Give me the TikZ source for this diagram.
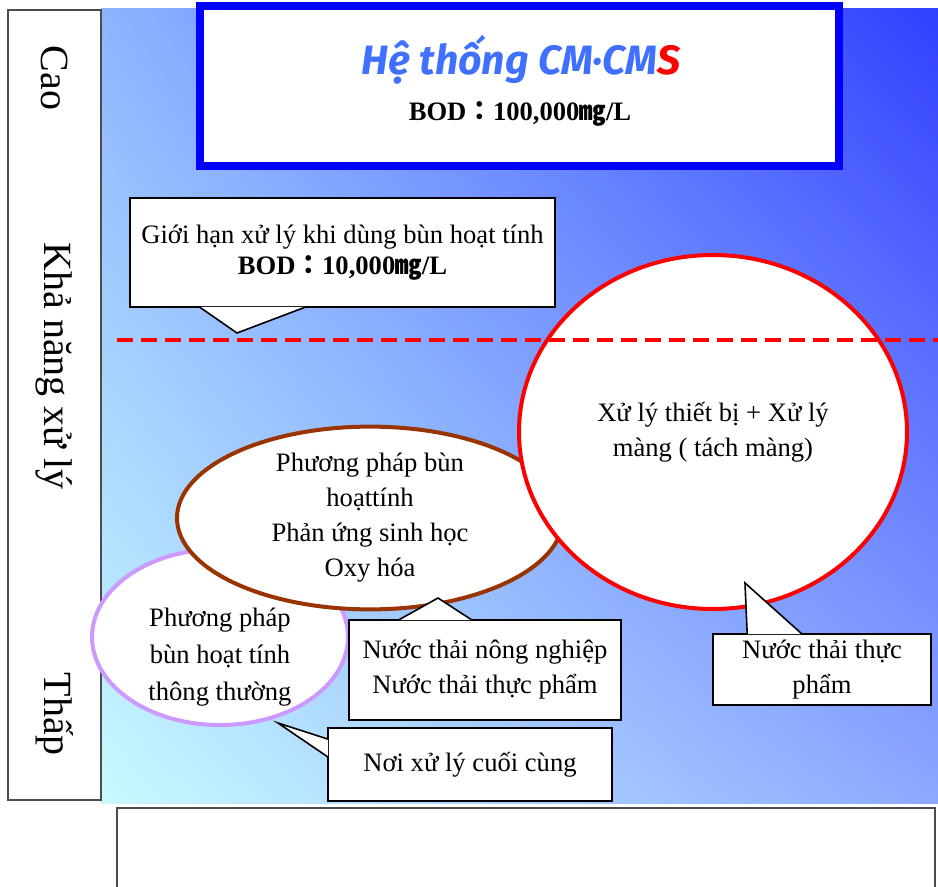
\documentclass[tikz,border=0pt]{standalone}
\usepackage{fontspec}
\setmainfont{Liberation Serif}
\newfontfamily\cjk{Noto Sans CJK JP}
\newfontfamily\titlefont{Fira Sans}
\usepackage{xcolor}
\usepackage{tikz}
\usetikzlibrary{shapes.geometric}
\usetikzlibrary{shadings}
\usetikzlibrary{calc}
\definecolor{frameblue}{RGB}{0,0,255}
\definecolor{titleblue}{RGB}{64,112,255}
\definecolor{lilac}{RGB}{204,153,255}
\definecolor{rust}{RGB}{153,51,0}
\definecolor{bgul}{RGB}{140,180,255}
\definecolor{bgur}{RGB}{48,64,255}
\definecolor{bgll}{RGB}{200,250,255}
\definecolor{bglr}{RGB}{140,168,255}
\tikzset{
    txt/.style = {align=center, inner sep=0pt, text centered, font=\fontsize{26.6}{35}\selectfont},
    side_box/.style = {rectangle, draw=black!70, fill=white, line width=2pt, inner sep=0pt},
    side_txt/.style = {txt, rotate=-90, font=\fontsize{40}{44}\selectfont},
    head_box/.style = {rectangle, draw=frameblue, fill=white, line width=8pt, inner sep=0pt},
    note_box/.style = {txt, rectangle, draw=black, fill=white, line width=1.6pt},
    pointer/.style = {draw=black, fill=white, line width=1.6pt, line join=miter},
    oval/.style = {txt, ellipse, fill=white, line width=4pt}
}

\begin{document}
\begin{tikzpicture}[x=1pt, y=-1pt]
    \useasboundingbox (0,0) rectangle (938,887);
    \shade[upper left=bgul, upper right=bgur, lower left=bgll, lower right=bglr] (101,8) rectangle (938,803);

    \node[side_box, minimum width=93, minimum height=790] (axis) at (54.5,405) {};
    \node[side_txt] (high) at (54.5,78) {Cao};
    \node[side_txt] (ability) at (54.5,366) {Khả năng xử lý};
    \node[side_txt] (low) at (54.5,714) {Thấp};
    \node[side_box, minimum width=818, minimum height=80] (foot) at (526,848) {};

    \node[head_box, minimum width=639, minimum height=160] (head) at (519.5,86) {};
    \node[txt, font=\titlefont\bfseries\itshape\fontsize{41}{44}\selectfont, text=titleblue] (name) at (521,60) {Hệ thống CM·CM\textcolor{red}{S}};
    \node[txt, font=\bfseries\fontsize{26.6}{35}\selectfont] (bod_max) at (520,114) {BOD{\cjk ：}100,000{\cjk ㎎}/L};

    \node[note_box, minimum width=425, minimum height=109, font=\fontsize{26.6}{31}\selectfont] (limit) at (342.5,252.5)
        {Giới hạn xử lý khi dùng bùn hoạt tính\\\textbf{BOD{\cjk ：}10,000{\cjk ㎎}/L}};
    \coordinate (limit_tip) at (237,333);
    \filldraw[pointer] ($(limit.south west)+(70,-1)$) -- (limit_tip) -- ($(limit.south west)+(177,-1)$);

    \node[oval, draw=lilac, minimum width=256, minimum height=176] (usual) at (220,637) {};
    \node[txt] (usual_txt) at ([yshift=-20]usual.center) {Phương pháp\\[2pt]bùn hoạt tính\\[2pt]thông thường};
    \node[oval, draw=rust, minimum width=386, minimum height=176] (active) at (370,518)
        {Phương pháp bùn\\hoạttính\\Phản ứng sinh học\\Oxy hóa};
    \node[oval, draw=red, minimum width=388, minimum height=354] (membrane) at (713,432)
        {Xử lý thiết bị + Xử lý\\màng ( tách màng)};

    \draw[red, line width=4.5pt, dash pattern=on 16pt off 8pt] (117,340) -- (938,340);

    \node[note_box, minimum width=272, minimum height=100] (agri) at (485,670)
        {Nước thải nông nghiệp\\Nước thải thực phẩm};
    \coordinate (agri_tip) at (438,598);
    \filldraw[pointer] ($(agri.north west)+(50,1)$) -- (agri_tip) -- ($(agri.north west)+(124,1)$);

    \node[note_box, minimum width=284, minimum height=73] (final) at (470,764.5) {Nơi xử lý cuối cùng};
    \coordinate (final_tip) at (278,723);
    \filldraw[pointer] ($(final.north west)+(1,12)$) -- (final_tip) -- ($(final.north west)+(1,30)$);

    \node[note_box, minimum width=218, minimum height=71] (food) at (822,669.5) {Nước thải thực\\phẩm};
    \coordinate (food_tip) at (745,583);
    \filldraw[pointer] ($(food.north west)+(35,1)$) -- (food_tip) -- ($(food.north west)+(90,1)$);
\end{tikzpicture}
\end{document}
